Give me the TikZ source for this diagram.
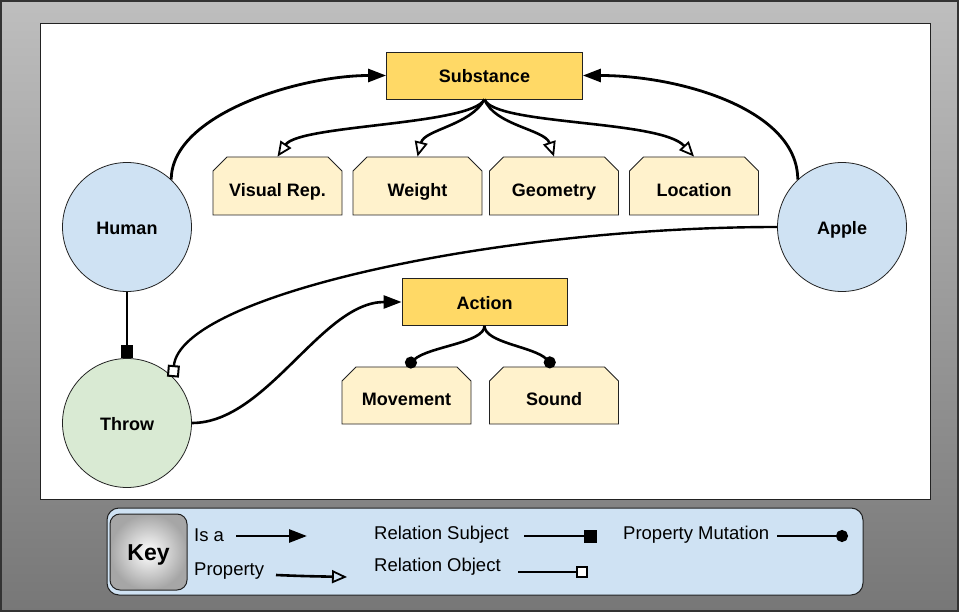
\documentclass[tikz,border=0pt]{standalone}
\usepackage{fontspec}
\setmainfont{Liberation Sans}
\usetikzlibrary{arrows.meta,shapes.misc,shadings}
\definecolor{csubst}{HTML}{FFD966}
\definecolor{cprop}{HTML}{FFF2CC}
\definecolor{cblue}{HTML}{CFE2F3}
\definecolor{cgreen}{HTML}{D9EAD3}
\definecolor{bgtop}{HTML}{BEBEBE}
\definecolor{bgbot}{HTML}{777777}
\definecolor{edgec}{HTML}{222222}
\tikzset{
  circnode/.style={circle, draw=edgec, line width=0.8pt, minimum size=129pt, inner sep=0pt, text height=16pt, text depth=0pt, font=\bfseries\fontsize{18}{21}\selectfont},
  clsbox/.style={rectangle, draw=edgec, line width=0.8pt, fill=csubst, minimum height=47pt, inner sep=0pt, text height=15pt, text depth=0pt, font=\bfseries\fontsize{18}{21}\selectfont},
  propbox/.style={chamfered rectangle, chamfered rectangle corners={north west,north east}, chamfered rectangle xsep=7pt, chamfered rectangle ysep=7pt, draw=edgec, line width=0.8pt, fill=cprop, minimum width=129pt, minimum height=58pt, inner sep=0pt, text height=22pt, text depth=0pt, font=\bfseries\fontsize{18}{21}\selectfont},
  legtext/.style={anchor=west, inner sep=0pt, font=\fontsize{18.5}{21}\selectfont},
  isaArrow/.style={line width=2.8pt, -{Triangle[length=18pt,width=13pt]}},
  propArrow/.style={line width=2.6pt, -{Triangle[open,length=15pt,width=13pt,line width=1.8pt]}},
  subjArrow/.style={line width=2.6pt, -{Rectangle[length=13pt,width=12pt]}},
  objArrow/.style={line width=2.4pt, -{Square[length=12pt,fill=white,line width=2pt]}},
  mutArrow/.style={line width=2.6pt, -{Circle[length=12pt]}},
}
\begin{document}
\begin{tikzpicture}[x=1pt,y=-1pt]
\useasboundingbox (0,0) rectangle (959,612);
\shade[top color=bgtop, bottom color=bgbot] (0,0) rectangle (959,612);
\draw[line width=2pt, draw=black!80] (1,1) rectangle (958,611);
\draw[fill=white, draw=edgec, line width=1pt] (40,24) rectangle (930,499);

% nodes
\node[circnode, fill=cblue] (human) at (127,227) {Human};
\node[circnode, fill=cblue] (apple) at (842,227) {Apple};
\node[circnode, fill=cgreen, text height=14pt] (throw) at (127,423) {Throw};
\node[clsbox, minimum width=196pt] (subst) at (484.5,75.5) {Substance};
\node[clsbox, minimum width=165pt] (action) at (484.5,302) {Action};
\node[propbox] (vis) at (277.5,186) {Visual Rep.};
\node[propbox] (wt) at (417.5,186) {Weight};
\node[propbox] (geo) at (554,186) {Geometry};
\node[propbox] (loc) at (694,186) {Location};
\node[propbox, minimum height=57pt, text height=21pt] (mov) at (406.5,395.5) {Movement};
\node[propbox, minimum height=57pt, text height=21pt] (snd) at (554,395.5) {Sound};

% connectors
\draw[isaArrow] (human.47) .. controls +(0,-65) and +(-87,0) .. (subst.west);
\draw[isaArrow] (apple.133) .. controls +(0,-70) and +(97,0) .. (subst.east);
\draw[propArrow] (subst.south) .. controls +(-14,26) and +(22,-32) .. (vis.north);
\draw[propArrow] (subst.south) .. controls +(-14,26) and +(7,-27) .. (wt.north);
\draw[propArrow] (subst.south) .. controls +(10,26) and +(-9,-27) .. (geo.north);
\draw[propArrow] (subst.south) .. controls +(10,26) and +(-34,-37) .. (loc.north);
\draw[objArrow] (apple.west) .. controls +(-280,0) and +(7,-82) .. (throw.45);
\draw[subjArrow] (human.south) -- (throw.north);
\draw[isaArrow, line width=2.6pt] (throw.east) .. controls +(75,0) and +(-80,0) .. (action.west);
\draw[mutArrow] (action.south) .. controls +(0,17) and +(22,-20) .. (mov.north);
\draw[mutArrow] (action.south) .. controls +(0,17) and +(-20,-20) .. (snd.north);

% key
\node[draw=edgec, line width=1pt, rounded corners=12pt, fill=cblue, minimum width=756pt, minimum height=87pt, inner sep=0pt] (keybox) at (485,551.5) {};
\node[draw=edgec, line width=1pt, rounded corners=10pt, inner color=white, outer color=black!35, minimum width=77pt, minimum height=76pt, inner sep=0pt, text height=17pt, text depth=0pt, font=\bfseries\fontsize{23}{27}\selectfont] (keybtn) at (148.5,552) {Key};

\node[legtext] (lisa) at (194,535) {Is a};
\node[legtext] (lprop) at (194,571) {Property};
\node[legtext] (lsubj) at (374,535) {Relation Subject};
\node[legtext] (lobj) at (374,567) {Relation Object};
\node[legtext] (lmut) at (623,535) {Property Mutation};

\coordinate (isaA) at (236,536); \coordinate (isaB) at (307,536);
\coordinate (propA) at (276,575); \coordinate (propB) at (347,577);
\coordinate (subjA) at (524,536); \coordinate (subjB) at (597,536);
\coordinate (objA) at (518,572); \coordinate (objB) at (588,572);
\coordinate (mutA) at (777,536); \coordinate (mutB) at (848,536);
\draw[isaArrow] (isaA) -- (isaB);
\draw[propArrow] (propA) .. controls (300,576) .. (propB);
\draw[subjArrow, -{Square[length=13pt]}] (subjA) -- (subjB);
\draw[objArrow] (objA) -- (objB);
\draw[mutArrow] (mutA) -- (mutB);
\end{tikzpicture}
\end{document}
